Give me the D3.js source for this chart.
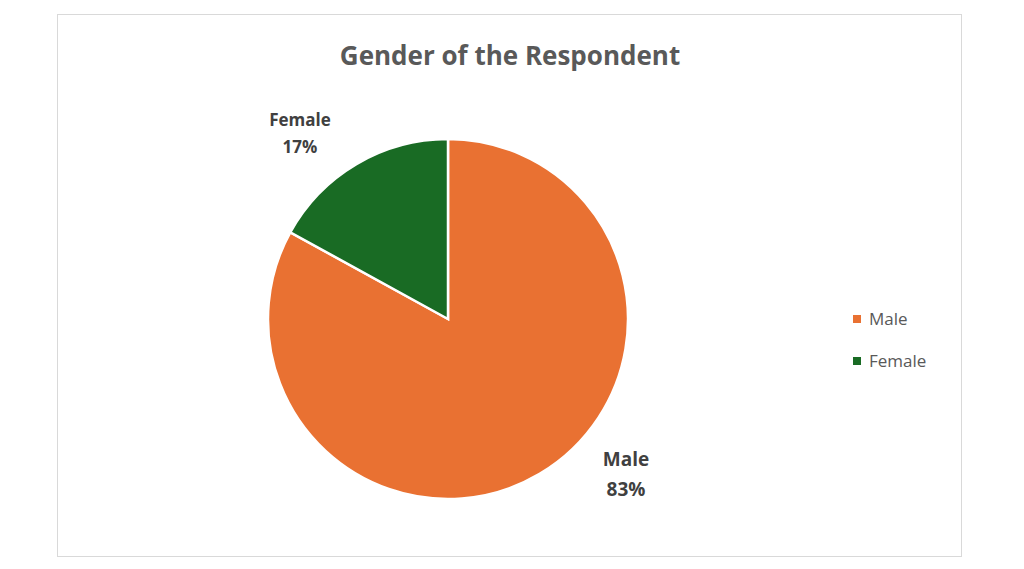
<!DOCTYPE html>
<html><head><meta charset="utf-8">
<script src="https://cdn.jsdelivr.net/npm/d3@7"></script>
<style>body{margin:0;background:#fff}</style></head>
<body><svg id="c" width="1024" height="569"></svg>
<script>
const categories = ["Male", "Female"];
const values = [83, 17];
const colors = ["#E97132", "#196B24"];
const labelText = ["Male", "Female"];

const svg = d3.select("#c");
svg.append("rect").attr("x",57.5).attr("y",14.5).attr("width",904).attr("height",542)
  .attr("fill","#fff").attr("stroke","#d9d9d9");
svg.append("text").attr("x",510).attr("y",65).attr("text-anchor","middle")
  .attr("font-family","Open Sans, sans-serif").attr("font-weight","bold").attr("font-size",26)
  .attr("fill","#595959").text("Gender of the Respondent");

const cx=448, cy=319, r=180;
const pie = d3.pie().sort(null).value(d=>d)(values);
const arc = d3.arc().innerRadius(0).outerRadius(r);
const g = svg.append("g").attr("transform",`translate(${cx},${cy})`);
g.selectAll("path").data(pie).join("path").attr("d",arc)
  .attr("fill",(d,i)=>colors[i]).attr("stroke","#fff").attr("stroke-width",2.5);

const labelPos = [[626,466],[300,126]];
pie.forEach((d,i)=>{
  const t = svg.append("text").attr("text-anchor","middle")
    .attr("font-family","Open Sans, sans-serif").attr("font-weight","bold")
    .attr("fill","#404040").attr("font-size", i===0?19:17);
  t.append("tspan").attr("x",labelPos[i][0]).attr("y",labelPos[i][1]).text(categories[i]);
  t.append("tspan").attr("x",labelPos[i][0]).attr("dy", i===0?30:27).text(values[i]+"%");
});

categories.forEach((c,i)=>{
  const y = 319 + i*42;
  svg.append("rect").attr("x",853).attr("y",y-4).attr("width",8).attr("height",8).attr("fill",colors[i]);
  svg.append("text").attr("x",869).attr("y",y+6).attr("font-family","Open Sans, sans-serif")
    .attr("font-size",17).attr("fill","#595959").text(labelText[i]);
});
</script></body></html>
